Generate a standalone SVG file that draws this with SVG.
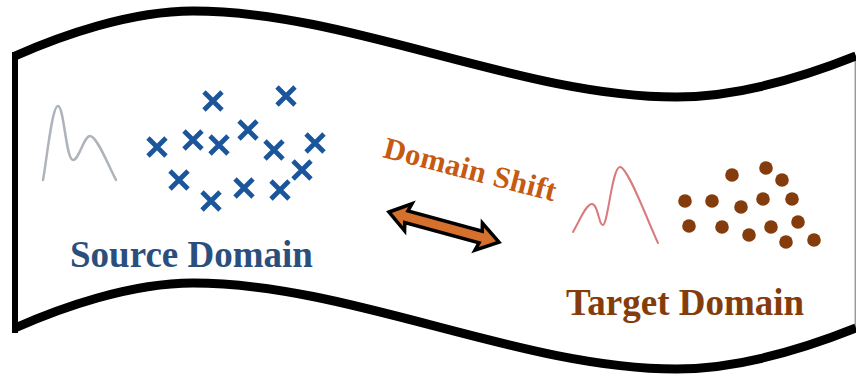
<svg xmlns="http://www.w3.org/2000/svg" width="856" height="376" viewBox="0 0 856 376">
  <style>
    .edge { fill: none; stroke: #000; stroke-width: 9; }
    .side { fill: none; stroke: #000; stroke-width: 6; }
    .xmark { stroke: #1b559c; stroke-width: 4.8; fill: none; }
    .dot { fill: #843c0c; }
    .label { font-family: "Liberation Serif", "Times New Roman", serif; font-weight: bold; }
  </style>
  <defs>
    <filter id="soft" x="-10%" y="-10%" width="120%" height="120%">
      <feGaussianBlur stdDeviation="0.5"/>
    </filter>
    <g id="x">
      <path class="xmark" d="M-9,-9 L9,9 M-9,9 L9,-9"/>
    </g>
  </defs>

  <!-- wavy banner -->
  <g id="banner">
    <path d="M15,56 C60,36 130,11 193,11 C350,11 520,97 676,97 C740,97 806,76 856,56 L856,328 C806,348 740,369 676,369 C520,369 350,283 193,283 C130,283 60,308 15,328 Z" fill="#fff"/>
    <line x1="855.3" y1="56" x2="855.3" y2="328" stroke="#9a9a9a" stroke-width="1.5"/>
    <path class="edge" d="M15,56 C60,36 130,11 193,11 C350,11 520,97 676,97 C740,97 806,76 856,56"/>
    <path class="edge" d="M15,328 C60,308 130,283 193,283 C350,283 520,369 676,369 C740,369 806,348 856,328"/>
    <line class="side" x1="15" y1="52" x2="15" y2="333"/>
  </g>

  <!-- source domain -->
  <g id="source">
    <path d="M43,180 C47,158 52,106 58,106 C64,106 66,160 73,160 C79,160 84,136 90,136 C97,136 108,165 116,180" fill="none" stroke="#aeb4bb" stroke-width="2.5" stroke-linecap="round" filter="url(#soft)"/>
    <use href="#x" x="213" y="101"/>
    <use href="#x" x="286" y="96"/>
    <use href="#x" x="157" y="147"/>
    <use href="#x" x="193" y="140"/>
    <use href="#x" x="219" y="145"/>
    <use href="#x" x="248" y="130"/>
    <use href="#x" x="274" y="150"/>
    <use href="#x" x="315" y="143"/>
    <use href="#x" x="302" y="170"/>
    <use href="#x" x="179" y="180"/>
    <use href="#x" x="211" y="201"/>
    <use href="#x" x="244" y="188"/>
    <use href="#x" x="280" y="190"/>
    <text class="label" x="70" y="267" font-size="37" fill="#2b4f7c">Source Domain</text>
  </g>

  <!-- target domain -->
  <g id="target">
    <path d="M573,232 C580,220 586,204 592,204 C598,204 599,226 603,225 C608,224 612,167 620,167 C628,167 648,222 658,243" fill="none" stroke="#d97a7d" stroke-width="2" stroke-linecap="round" filter="url(#soft)"/>
    <circle class="dot" cx="732" cy="175" r="6.8"/>
    <circle class="dot" cx="766" cy="168" r="6.8"/>
    <circle class="dot" cx="782" cy="180" r="6.8"/>
    <circle class="dot" cx="685" cy="201" r="6.8"/>
    <circle class="dot" cx="712" cy="201" r="6.8"/>
    <circle class="dot" cx="741" cy="207" r="6.8"/>
    <circle class="dot" cx="763" cy="199" r="6.8"/>
    <circle class="dot" cx="792" cy="199" r="6.8"/>
    <circle class="dot" cx="689" cy="226" r="6.8"/>
    <circle class="dot" cx="722" cy="227" r="6.8"/>
    <circle class="dot" cx="749" cy="235" r="6.8"/>
    <circle class="dot" cx="771" cy="227" r="6.8"/>
    <circle class="dot" cx="798" cy="222" r="6.8"/>
    <circle class="dot" cx="786" cy="242" r="6.8"/>
    <circle class="dot" cx="814" cy="240" r="6.8"/>
    <text class="label" x="566" y="315" font-size="37" fill="#843c0c">Target Domain</text>
  </g>

  <!-- domain shift connector -->
  <g id="connectors">
    <g transform="translate(389,212) rotate(15.3)">
      <path d="M0,0 L20,-14 L18,-6 L95,-6 L93,-14 L114,0 L93,14 L95,6 L18,6 L20,14 Z" fill="#d5702d" stroke="#000" stroke-width="3.5" stroke-linejoin="miter"/>
    </g>
    <text class="label" transform="translate(382,157) rotate(14.5)" font-size="30.5" letter-spacing="0.3" fill="#c55a11">Domain Shift</text>
  </g>
</svg>
